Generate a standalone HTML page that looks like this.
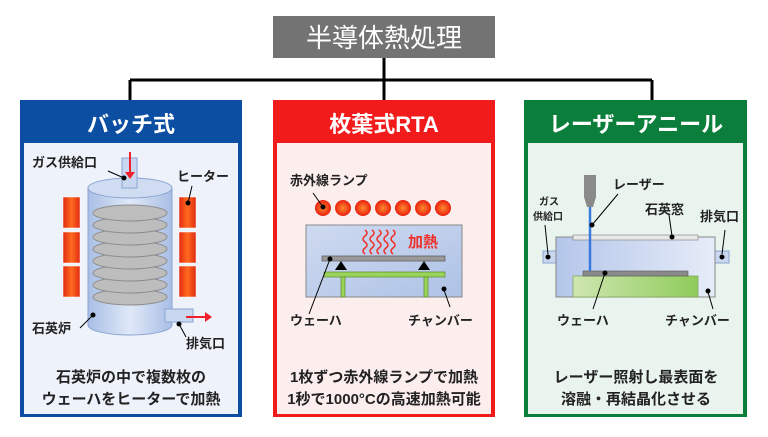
<!DOCTYPE html>
<html><head><meta charset="utf-8"><style>
html,body{margin:0;padding:0;background:#fff}
svg text{font-family:"Liberation Sans","Noto Sans CJK JP",sans-serif;font-weight:bold}
</style></head><body>
<svg width="768" height="432" viewBox="0 0 768 432" xmlns="http://www.w3.org/2000/svg">
<defs>
<linearGradient id="cyl" x1="0" x2="1"><stop offset="0" stop-color="#a9bfe6"/><stop offset="0.5" stop-color="#dfe8f7"/><stop offset="1" stop-color="#a9bfe6"/></linearGradient>
<linearGradient id="heat" x1="0" x2="1"><stop offset="0" stop-color="#e02a10"/><stop offset="0.5" stop-color="#ff6a20"/><stop offset="1" stop-color="#e02a10"/></linearGradient>
<radialGradient id="lamp"><stop offset="0" stop-color="#ff8a30"/><stop offset="1" stop-color="#e8200e"/></radialGradient>
<linearGradient id="ch" x1="0" y1="0" x2="1" y2="1"><stop offset="0" stop-color="#cfdaf0"/><stop offset="1" stop-color="#aec2e6"/></linearGradient>
<linearGradient id="ch2" x1="0" y1="0" x2="1" y2="0"><stop offset="0" stop-color="#b4c6ea"/><stop offset="1" stop-color="#e6ecf8"/></linearGradient>
<linearGradient id="gb" x1="0" x2="1"><stop offset="0" stop-color="#cfe6b0"/><stop offset="1" stop-color="#8fcc5a"/></linearGradient>
</defs>
<!-- title -->
<rect x="273" y="16" width="222" height="42" fill="#737373"/>
<text x="384" y="47" text-anchor="middle" font-size="26" fill="#fff" style="font-weight:normal">半導体熱処理</text>
<path d="M384 58V100M130 80H652M130 80V100M652 80V100" stroke="#000" stroke-width="3" fill="none"/>

<!-- panel 1 -->
<rect x="20" y="100" width="222" height="317" fill="#0b4ea2"/>
<rect x="24" y="143" width="214" height="271" fill="#eef2fa"/>
<text x="131" y="132" text-anchor="middle" font-size="22" fill="#fff">バッチ式</text>
<g fill="url(#heat)" stroke="#fff" stroke-width="0.5">
<rect x="63" y="197" width="17" height="31"/><rect x="63" y="232" width="17" height="31"/><rect x="63" y="266" width="17" height="31"/>
<rect x="179" y="197" width="17" height="31"/><rect x="179" y="232" width="17" height="31"/><rect x="179" y="266" width="17" height="31"/>
</g>
<path d="M88 188V325A42 10 0 0 0 172 325V188Z" fill="url(#cyl)" stroke="#8aa3d0"/>
<ellipse cx="130" cy="188" rx="42" ry="10" fill="#cfdcf2" stroke="#8aa3d0"/>
<g fill="#bdbdbd" stroke="#8d8d8d">
<ellipse cx="130" cy="297" rx="37" ry="8"/><ellipse cx="130" cy="285" rx="37" ry="8"/><ellipse cx="130" cy="273" rx="37" ry="8"/><ellipse cx="130" cy="261" rx="37" ry="8"/><ellipse cx="130" cy="249" rx="37" ry="8"/><ellipse cx="130" cy="237" rx="37" ry="8"/><ellipse cx="130" cy="225" rx="37" ry="8"/><ellipse cx="130" cy="213" rx="37" ry="8"/>
</g>
<rect x="122" y="158" width="15" height="30" fill="#c9d8f0" stroke="#8aa3d0"/>
<rect x="165" y="309" width="28" height="13" fill="#c9d8f0" stroke="#8aa3d0"/>
<path d="M130 152V174" stroke="#f0202a" stroke-width="2"/><path d="M125 172L130 179L135 172Z" fill="#f0202a"/>
<path d="M186 317H206" stroke="#f0202a" stroke-width="2"/><path d="M205 312L212 317L205 322Z" fill="#f0202a"/>
<g stroke="#000" stroke-width="1" fill="#000">
<path d="M108 171L124 178"/><circle cx="124" cy="178" r="2"/>
<path d="M192 186L188 203"/><circle cx="188" cy="203" r="2"/>
<path d="M80 328L92 316"/><circle cx="93" cy="315" r="2"/>
<path d="M186 337L179 324"/><circle cx="179" cy="324" r="2"/>
</g>
<g font-size="13" fill="#222">
<text x="32" y="167">ガス供給口</text><text x="177" y="181">ヒーター</text>
<text x="32" y="333">石英炉</text><text x="186" y="348">排気口</text>
</g>
<g font-size="15" fill="#222" text-anchor="middle">
<text x="131" y="382">石英炉の中で複数枚の</text><text x="131" y="404">ウェーハをヒーターで加熱</text>
</g>

<!-- panel 2 -->
<rect x="273" y="100" width="222" height="317" fill="#f21b1b"/>
<rect x="277" y="143" width="214" height="271" fill="#fdeeee"/>
<text x="384" y="132" text-anchor="middle" font-size="22" fill="#fff">枚葉式RTA</text>
<g fill="url(#lamp)"><circle cx="323" cy="208" r="8"/><circle cx="343" cy="208" r="8"/><circle cx="363" cy="208" r="8"/><circle cx="383" cy="208" r="8"/><circle cx="403" cy="208" r="8"/><circle cx="423" cy="208" r="8"/><circle cx="443" cy="208" r="8"/></g>
<rect x="306" y="225" width="156" height="72" fill="url(#ch)" stroke="#888"/>
<g stroke="#f0302a" stroke-width="1.5" fill="none">
<path d="M365 230q4 3 0 6t0 6t0 6t0 6"/><path d="M372 230q4 3 0 6t0 6t0 6t0 6"/><path d="M379 230q4 3 0 6t0 6t0 6t0 6"/><path d="M386 230q4 3 0 6t0 6t0 6t0 6"/><path d="M393 230q4 3 0 6t0 6t0 6t0 6"/>
</g>
<text x="408" y="247" font-size="15" fill="#f0302a">加熱</text>
<rect x="322" y="256" width="123" height="5" fill="#9a9a9a" stroke="#555" stroke-width="0.7"/>
<path d="M335 270L341 261L347 270ZM418 270L424 261L430 270Z" fill="#000"/>
<rect x="324" y="272" width="121" height="5" fill="#9ad35a" stroke="#5a8a2a" stroke-width="0.7"/>
<rect x="341" y="277" width="4" height="20" fill="#9ad35a" stroke="#5a8a2a" stroke-width="0.7"/>
<rect x="424" y="277" width="4" height="20" fill="#9ad35a" stroke="#5a8a2a" stroke-width="0.7"/>
<g stroke="#000" fill="#000">
<path d="M313 193L323 207"/><circle cx="323" cy="207" r="2"/>
<path d="M309 314L330 259"/><circle cx="330" cy="259" r="2"/>
<path d="M450 307L444 290"/><circle cx="444" cy="289" r="2"/>
</g>
<g font-size="13" fill="#222">
<text x="290" y="185">赤外線ランプ</text><text x="290" y="325">ウェーハ</text><text x="408" y="325">チャンバー</text>
</g>
<g font-size="15" fill="#222" text-anchor="middle">
<text x="384" y="382">1枚ずつ赤外線ランプで加熱</text><text x="384" y="404">1秒で1000°Cの高速加熱可能</text>
</g>

<!-- panel 3 -->
<rect x="524" y="100" width="223" height="317" fill="#0a7e3a"/>
<rect x="528" y="143" width="215" height="271" fill="#eaf4ee"/>
<text x="636" y="132" text-anchor="middle" font-size="22" fill="#fff">レーザーアニール</text>
<rect x="543" y="251" width="14" height="12" fill="#c9d8f0" stroke="#8aa3d0"/>
<rect x="714" y="251" width="15" height="12" fill="#c9d8f0" stroke="#8aa3d0"/>
<rect x="556" y="237" width="159" height="60" fill="url(#ch2)" stroke="#888"/>
<rect x="573" y="235" width="125" height="5" fill="#e8e8e8" stroke="#888" stroke-width="0.7"/>
<rect x="573" y="276" width="125" height="21" fill="url(#gb)" stroke="#7aa050" stroke-width="0.7"/>
<rect x="583" y="271" width="105" height="5" fill="#8a8a8a" stroke="#555" stroke-width="0.6"/>
<path d="M590 207V271" stroke="#3a7ae0" stroke-width="2.5"/>
<rect x="584" y="175" width="12" height="22" fill="#8a8a8a"/><path d="M584 197H596L593 207H587Z" fill="#8a8a8a"/>
<g stroke="#000" fill="#000">
<path d="M618 194L592 225"/><circle cx="592" cy="225" r="2"/>
<path d="M669 215L672 236"/><circle cx="672" cy="237" r="2"/>
<path d="M545 225L548 254"/><circle cx="548" cy="257" r="2"/>
<path d="M725 230L722 254"/><circle cx="722" cy="257" r="2"/>
<path d="M593 309L605 273"/><circle cx="605" cy="273" r="2"/>
<path d="M713 309L708 292"/><circle cx="708" cy="291" r="2"/>
</g>
<g font-size="13" fill="#222">
<text x="613" y="189">レーザー</text><text x="645" y="214">石英窓</text><text x="700" y="221">排気口</text>
<text x="557" y="325">ウェーハ</text><text x="665" y="325">チャンバー</text>
</g>
<g font-size="10" fill="#222"><text x="539" y="205">ガス</text><text x="533" y="220">供給口</text></g>
<g font-size="15" fill="#222" text-anchor="middle">
<text x="636" y="382">レーザー照射し最表面を</text><text x="636" y="404">溶融・再結晶化させる</text>
</g>
</svg>
</body></html>
